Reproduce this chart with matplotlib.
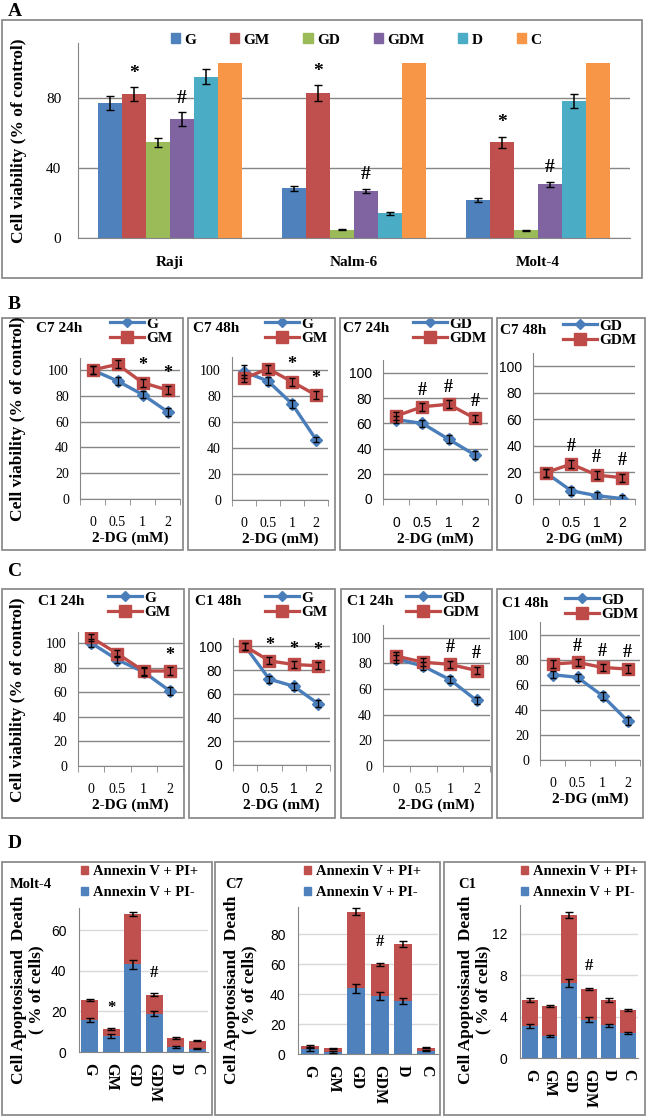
import numpy as np
import matplotlib
matplotlib.use('Agg')
import matplotlib.pyplot as plt
from matplotlib.patches import Rectangle, Patch
from matplotlib.lines import Line2D

plt.rcParams['font.family'] = ['Liberation Serif', 'DejaVu Serif']

W, H = 650, 1117

# ---- panel A data ----
cells = ['Raji', 'Nalm-6', 'Molt-4']
treat = ['G', 'GM', 'GD', 'GDM', 'D', 'C']
a_g = [77.0, 28.4, 21.7]
a_gm = [82.3, 82.7, 54.7]
a_gd = [54.7, 4.6, 4.4]
a_gdm = [67.8, 27.0, 30.7]
a_d = [92.2, 14.1, 78.3]
a_c = [100, 100, 100]
a_g_err = [4.0, 1.5, 1.2]
a_gm_err = [4.0, 4.5, 3.2]
a_gd_err = [2.5, 0.3, 0.3]
a_gdm_err = [4.0, 1.2, 1.5]
a_d_err = [4.5, 1.0, 4.0]
a_c_err = [0, 0, 0]

# ---- panels B and C data (2-DG dose) ----
doses = ['0', '0.5', '1', '2']
b1_g = [100, 91.5, 81.0, 67.7]
b1_gm = [100, 104.4, 90.2, 84.5]
b2_g = [98.7, 91.5, 74.0, 46.5]
b2_gm = [93.5, 101.0, 91.0, 80.7]
b3_gd = [63.0, 60.0, 47.4, 35.0]
b3_gdm = [65.9, 73.2, 75.2, 64.0]
b4_gd = [19.8, 6.2, 2.5, 0.3]
b4_gdm = [19.8, 26.3, 18.0, 16.0]
c1_g = [100, 86.4, 76.4, 61.0]
c1_gm = [104.6, 91.3, 77.2, 77.2]
c2_g = [100, 72.3, 66.4, 51.8]
c2_gm = [100, 87.7, 84.7, 83.6]
c3_gd = [83.6, 77.9, 67.4, 51.1]
c3_gdm = [85.7, 81.0, 79.3, 74.5]
c4_gd = [68.0, 65.9, 51.2, 31.2]
c4_gdm = [76.5, 77.8, 73.8, 72.5]
err_small = [3, 3, 3, 3]
b2_g_err = [5, 3, 3, 2]

# ---- panel D data ----
d_molt_neg = [15.6, 7.9, 43.2, 18.9, 2.5, 1.7]
d_molt_tot = [25.5, 11.2, 68.2, 28.3, 6.9, 5.6]
d_c7_neg = [3.1, 1.5, 43.8, 38.7, 35.3, 2.2]
d_c7_tot = [5.5, 3.8, 94.9, 60.0, 73.3, 4.2]
d_c1_neg = [3.1, 2.1, 7.25, 3.7, 3.15, 2.4]
d_c1_tot = [5.6, 5.0, 13.85, 6.7, 5.6, 4.6]
d_molt_neg_err = [1.0, 0.8, 2.2, 1.3, 0.3, 0.3]
d_molt_tot_err = [0.5, 0.5, 1.0, 0.6, 0.3, 0.3]
d_c7_neg_err = [1.0, 0.5, 3.0, 2.5, 2.0, 0.5]
d_c7_tot_err = [0.5, 0.3, 2.5, 1.0, 2.0, 0.5]
d_c1_neg_err = [0.2, 0.1, 0.35, 0.25, 0.15, 0.1]
d_c1_tot_err = [0.2, 0.1, 0.3, 0.1, 0.2, 0.1]

bar_colors = ['#4F81BD', '#C0504D', '#9BBB59', '#8064A2', '#4BACC6', '#F79646']
blue_l, red_l = '#4A7EBB', '#BE4B48'
grid_c = '#868686'

fig = plt.figure(figsize=(W / 100, H / 100), dpi=100)


def axrect(x0, y0, x1, y1):
    return fig.add_axes([x0 / W, 1 - y1 / H, (x1 - x0) / W, (y1 - y0) / H])


def box(x0, y0, x1, y1):
    fig.patches.append(Rectangle((x0 / W, 1 - y1 / H), (x1 - x0) / W, (y1 - y0) / H,
                                 transform=fig.transFigure, fill=False,
                                 edgecolor='#8c8c8c', lw=1.3))


def ftext(x, y, s, **kw):
    fig.text(x / W, 1 - y / H, s, **kw)


def style(ax, gc=grid_c):
    for s in ['top', 'right']:
        ax.spines[s].set_visible(False)
    for s in ['left', 'bottom']:
        ax.spines[s].set_color(grid_c)
    ax.yaxis.grid(True, color=gc, lw=1)
    ax.set_axisbelow(True)


# ================= A =================
ftext(8, 12, 'A', fontsize=14, fontweight='bold', va='center')
box(2, 20, 642, 278)
ax = axrect(78, 43, 630, 238)
style(ax)
series = [a_g, a_gm, a_gd, a_gdm, a_d, a_c]
errs = [a_g_err, a_gm_err, a_gd_err, a_gdm_err, a_d_err, a_c_err]
x = np.arange(len(cells))
w = 0.131
handles = []
for i, (vals, e) in enumerate(zip(series, errs)):
    pos = x - 3 * w + w * (i + 0.5)
    ax.bar(pos, vals, w, color=bar_colors[i], zorder=2)
    if i < 5:
        ax.errorbar(pos, vals, yerr=e, fmt='none', ecolor='black', capsize=3, lw=1.1, zorder=3)
    if treat[i] in ('GM', 'GDM'):
        sym = '*' if treat[i] == 'GM' else '#'
        for p, v, ee in zip(pos, vals, e):
            ax.text(p, v + ee + 3, sym, ha='center', va='bottom', fontsize=14, fontweight='bold')
    handles.append(Patch(color=bar_colors[i], label=treat[i]))
ax.set_xlim(-0.5, 2.5)
ax.set_ylim(0, 111.4)
ax.set_yticks([0, 40, 80])
ax.set_xticks(x)
ax.set_xticklabels(cells, fontsize=11, fontweight='bold')
ax.tick_params(length=0, labelsize=11, pad=13)
ax.tick_params(axis='y', pad=12)
ax.set_ylabel('Cell viability (% of control)', fontsize=12.5, fontweight='bold', labelpad=14)
ax.legend(handles=handles, ncol=6, loc='center', bbox_to_anchor=(356 / W, 1 - 40 / H),
          bbox_transform=fig.transFigure, frameon=False, handlelength=0.6, handleheight=0.6,
          handletextpad=0.3, columnspacing=2.2, prop={'weight': 'bold', 'size': 11})


# ================= B / C =================
def line_panel(rect, ymax, s1, e1, s2, e2, names, title, tx, ty, lx, marks, sym, tfam):
    ax = axrect(*rect)
    style(ax)
    x = np.arange(len(doses))
    ax.plot(x, s1, color=blue_l, marker='D', ms=6, lw=2.4, zorder=3)
    ax.plot(x, s2, color=red_l, marker='s', ms=9, lw=2.4, zorder=4)
    ax.errorbar(x, s1, yerr=e1, fmt='none', ecolor='black', capsize=2.5, lw=0.9, zorder=5)
    ax.errorbar(x, s2, yerr=e2, fmt='none', ecolor='black', capsize=2.5, lw=0.9, zorder=5)
    for i in marks:
        ax.text(i, max(s1[i], s2[i]) + 13, sym, ha='center', va='center',
                fontsize=13, fontweight='bold', zorder=6)
    ax.set_xlim(-0.5, len(doses) - 0.5)
    ax.set_ylim(0, ymax)
    ax.set_yticks([0, 20, 40, 60, 80, 100])
    ax.set_xticks(x)
    ax.set_xticklabels(doses)
    ax.set_xticks(np.arange(len(doses) + 1) - 0.5, minor=True)
    ax.tick_params(axis='x', which='major', length=0, pad=12, labelsize=10)
    ax.tick_params(axis='x', which='minor', length=4, color=grid_c)
    ax.tick_params(axis='y', length=0, pad=8, labelsize=10)
    for lab in ax.get_xticklabels() + ax.get_yticklabels():
        lab.set_family(tfam)
    ax.set_xlabel('2-DG (mM)', fontsize=11, fontweight='bold', labelpad=2)
    ftext(tx, ty, title, fontsize=11, fontweight='bold', va='center')
    hs = [Line2D([], [], color=blue_l, marker='D', ms=5, lw=2.3, label=names[0]),
          Line2D([], [], color=red_l, marker='s', ms=8, lw=2.3, label=names[1])]
    ax.legend(handles=hs, loc='upper left', bbox_to_anchor=(lx / W, 1 - (ty - 11) / H),
              bbox_transform=fig.transFigure, frameon=False, handlelength=2.2,
              handletextpad=0.15, labelspacing=0.05, borderpad=0, borderaxespad=0,
              prop={'weight': 'bold', 'size': 11})
    return ax


serif = ['Liberation Serif']
sans = ['Liberation Sans']

ftext(8, 305, 'B', fontsize=14, fontweight='bold', va='center')
for bx in [(2, 318, 183, 550), (188, 318, 335, 550), (340, 318, 492, 550), (497, 318, 645, 550)]:
    box(*bx)
line_panel((80, 358, 180, 499), 109.3, b1_g, err_small, b1_gm, err_small, ['G', 'GM'],
           'C7 24h', 36, 328, 110, [2, 3], '*', serif)
line_panel((232, 357, 328, 500), 110, b2_g, b2_g_err, b2_gm, err_small, ['G', 'GM'],
           'C7 48h', 193, 328, 265, [2, 3], '*', serif)
line_panel((383, 360, 488, 499), 110.3, b3_gd, err_small, b3_gdm, err_small, ['GD', 'GDM'],
           'C7 24h', 343, 328, 413, [1, 2, 3], '#', sans)
line_panel((533, 353, 635, 499), 109.8, b4_gd, err_small, b4_gdm, err_small, ['GD', 'GDM'],
           'C7 48h', 500, 330, 563, [1, 2, 3], '#', sans)
ftext(18, 419, 'Cell viability (% of control)', fontsize=12.5, fontweight='bold',
      rotation=90, ha='center', va='center')

ftext(8, 572, 'C', fontsize=14, fontweight='bold', va='center')
for bx in [(2, 589, 184, 818), (189, 589, 335, 818), (341, 589, 492, 818), (497, 589, 643, 818)]:
    box(*bx)
line_panel((78, 632, 183, 766), 108.9, c1_g, err_small, c1_gm, err_small, ['G', 'GM'],
           'C1 24h', 38, 602, 108, [3], '*', serif)
line_panel((233, 638, 330, 765), 107, c2_g, err_small, c2_gm, err_small, ['G', 'GM'],
           'C1 48h', 195, 602, 265, [1, 2, 3], '*', sans)
line_panel((383, 625, 490, 766), 110, c3_gd, err_small, c3_gdm, err_small, ['GD', 'GDM'],
           'C1 24h', 347, 602, 406, [2, 3], '#', serif)
line_panel((540, 622, 640, 760), 110, c4_gd, err_small, c4_gdm, err_small, ['GD', 'GDM'],
           'C1 48h', 502, 604, 565, [1, 2, 3], '#', serif)
ftext(18, 700, 'Cell viability (% of control)', fontsize=12.5, fontweight='bold',
      rotation=90, ha='center', va='center')


# ================= D =================
def stack_panel(rect, ymax, yt, neg, tot, neg_e, tot_e, marks, title, tx, lx, ylx):
    ax = axrect(*rect)
    style(ax, gc='#D9D9D9')
    x = np.arange(len(treat))
    pos_part = np.array(tot) - np.array(neg)
    ax.bar(x, neg, 0.78, color='#4F81BD', zorder=2)
    ax.bar(x, pos_part, 0.78, bottom=neg, color='#C0504D', zorder=2)
    ax.errorbar(x, neg, yerr=neg_e, fmt='none', ecolor='black', capsize=3, lw=1.1, zorder=3)
    ax.errorbar(x, tot, yerr=tot_e, fmt='none', ecolor='black', capsize=3, lw=1.1, zorder=3)
    for i, sym in marks:
        ax.text(x[i], tot[i] + 0.15 * ymax, sym, ha='center', va='center',
                fontsize=12, fontweight='bold')
    ax.set_xlim(-0.5, len(treat) - 0.5)
    ax.set_ylim(0, ymax)
    ax.set_yticks(yt)
    ax.set_xticks(x)
    ax.set_xticklabels(treat, rotation=-90, fontsize=11.5, fontweight='bold', va='top')
    ax.tick_params(axis='x', length=0, pad=8)
    ax.tick_params(axis='y', length=0, pad=9, labelsize=10)
    for lab in ax.get_yticklabels():
        lab.set_family(sans)
    ftext(tx, 885, title, fontsize=10.5, fontweight='bold', va='center')
    hs = [Patch(color='#C0504D', label='Annexin V + PI+'),
          Patch(color='#4F81BD', label='Annexin V + PI-')]
    ax.legend(handles=hs, loc='upper left', bbox_to_anchor=(lx / W, 1 - 865 / H),
              bbox_transform=fig.transFigure, frameon=False, handlelength=0.5,
              handleheight=0.5, handletextpad=0.3, labelspacing=0.55, borderpad=0,
              borderaxespad=0, prop={'weight': 'bold', 'size': 10.5})
    ftext(ylx, 990, 'Cell Apoptosisand  Death\n( % of cells)', fontsize=12.5, fontweight='bold',
          rotation=90, ha='center', va='center', linespacing=1.1, multialignment='center')
    return ax


ftext(8, 843, 'D', fontsize=14, fontweight='bold', va='center')
for bx in [(2, 862, 212, 1115), (215, 862, 440, 1115), (444, 862, 645, 1115)]:
    box(*bx)
stack_panel((79, 908, 208, 1052), 71, [0, 20, 40, 60], d_molt_neg, d_molt_tot,
            d_molt_neg_err, d_molt_tot_err, [(1, '*'), (3, '#')], 'Molt-4', 10, 81, 28)
stack_panel((298, 907, 438, 1054), 98, [0, 20, 40, 60, 80], d_c7_neg, d_c7_tot,
            d_c7_neg_err, d_c7_tot_err, [(3, '#')], 'C7', 225, 304, 241)
stack_panel((520, 905, 638, 1058), 14.8, [0, 4, 8, 12], d_c1_neg, d_c1_tot,
            d_c1_neg_err, d_c1_tot_err, [(3, '#')], 'C1', 458, 521, 475)

fig.savefig('out.png', dpi=100)
